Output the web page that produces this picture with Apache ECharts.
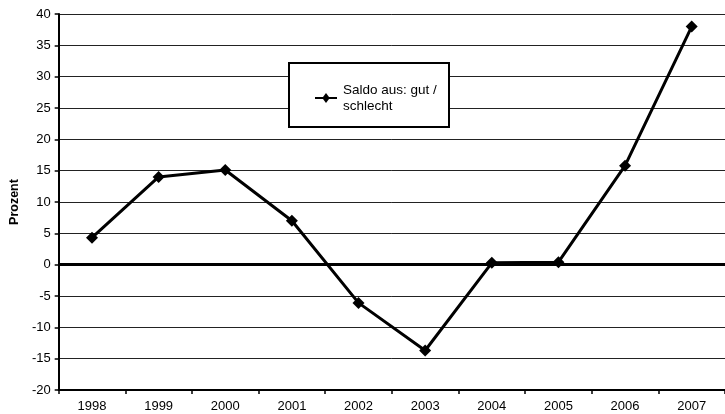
<!DOCTYPE html>
<html>
<head>
<meta charset="utf-8">
<script src="https://cdn.jsdelivr.net/npm/echarts@6/dist/echarts.min.js"></script>
<style>
  html, body { margin: 0; padding: 0; background: #fff; }
  #chart { width: 725px; height: 414px; }
</style>
</head>
<body>
<div id="chart"></div>
<script>
// Jahre und Saldo (gut minus schlecht) in Prozent
const years = ['1998', '1999', '2000', '2001', '2002', '2003', '2004', '2005', '2006', '2007'];
const saldo = [4.3, 14.0, 15.1, 7.0, -6.1, -13.7, 0.3, 0.4, 15.8, 38.0];
const seriesName = 'Saldo aus: gut /\nschlecht';
const yMin = -20, yMax = 40, yStep = 5;

const chart = echarts.init(document.getElementById('chart'), null, { renderer: 'canvas' });
const font = 'Liberation Sans, Arial, sans-serif';

chart.setOption({
  backgroundColor: '#fff',
  animation: false,
  textStyle: { fontFamily: font },
  grid: { left: 58, right: 0, top: 14, bottom: 24, containLabel: false },
  graphic: [{
    type: 'rect',
    shape: { x: 289, y: 63, width: 160, height: 64 },
    style: { fill: '#fff', stroke: '#000', lineWidth: 2 },
    z: 10
  }],
  legend: {
    left: 310, top: 77,
    z: 11,
    itemWidth: 24, itemHeight: 10, itemGap: 2,
    textStyle: { fontFamily: font, fontSize: 13.5, color: '#000', lineHeight: 16 },
    data: [{ name: seriesName, icon: 'path://M0,4 L8,4 L11,0 L14,4 L22,4 L22,6 L14,6 L11,10 L8,6 L0,6 Z' }]
  },
  xAxis: {
    type: 'category',
    data: years,
    boundaryGap: true,
    axisLine: { onZero: false, lineStyle: { color: '#000', width: 2 } },
    axisTick: { show: true, length: 4, alignWithLabel: false, lineStyle: { color: '#000', width: 1.5 } },
    axisLabel: { color: '#000', fontSize: 13, fontFamily: font, margin: 10 },
    splitLine: { show: false }
  },
  yAxis: {
    type: 'value',
    min: yMin, max: yMax, interval: yStep,
    name: 'Prozent',
    nameLocation: 'middle',
    nameGap: 37,
    nameRotate: 90,
    nameTextStyle: { fontFamily: font, fontSize: 12.5, fontWeight: 'bold', color: '#000' },
    axisLine: { show: true, lineStyle: { color: '#000', width: 2 } },
    axisTick: { show: true, inside: false, length: 4, lineStyle: { color: '#000', width: 1.5 } },
    axisLabel: { color: '#000', fontSize: 13, fontFamily: font, margin: 8 },
    splitLine: { show: true, lineStyle: { color: '#222', width: 1 } }
  },
  series: [{
    name: seriesName,
    type: 'line',
    data: saldo,
    lineStyle: { color: '#000', width: 3 },
    itemStyle: { color: '#000' },
    symbol: 'diamond',
    symbolSize: 12,
    markLine: {
      silent: true,
      symbol: 'none',
      label: { show: false },
      lineStyle: { color: '#000', width: 3, type: 'solid' },
      data: [{ yAxis: 0 }]
    },
    z: 5
  }]
});
</script>
</body>
</html>
